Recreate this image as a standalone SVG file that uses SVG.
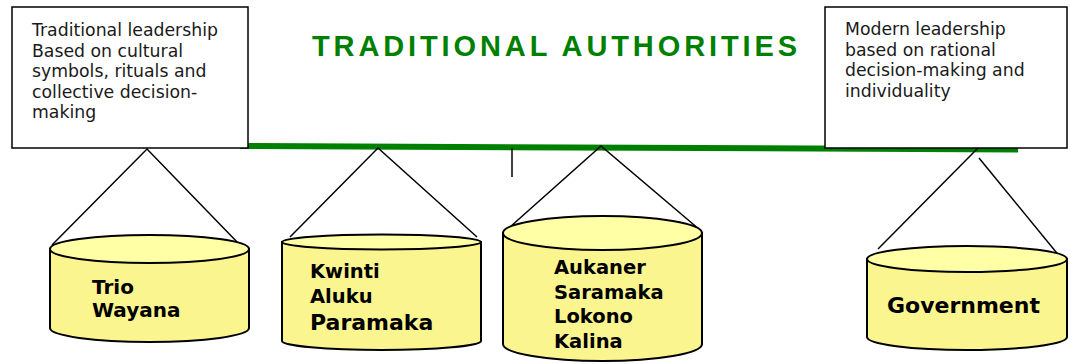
<svg xmlns="http://www.w3.org/2000/svg" width="1070" height="364" viewBox="0 0 1070 364">
<style>
.box{fill:#fff;stroke:#000;stroke-width:1.5}
.note{font-family:"DejaVu Sans",Verdana,sans-serif;font-size:17.3px;fill:#1a1a1a}
.hang{stroke:#000;stroke-width:1.5;fill:none}
.side{fill:#FAF58F;stroke:#000;stroke-width:2}
.top{fill:#FFFFA6;stroke:#000;stroke-width:2}
.lbl{font-family:"DejaVu Sans",Verdana,sans-serif;font-weight:bold;fill:#000}
</style>
<rect width="1070" height="364" fill="#fff"/>
<g id="axis">
<line x1="240" y1="146" x2="1018" y2="149.5" stroke="#008000" stroke-width="6"/>
</g>
<g id="traditional-box">
<rect class="box" x="12" y="7" width="236" height="141"/>
<text class="note"><tspan x="32" y="36">Traditional leadership</tspan><tspan x="32" y="56.5">Based on cultural</tspan><tspan x="32" y="77">symbols, rituals and</tspan><tspan x="32" y="97.5">collective decision-</tspan><tspan x="32" y="118">making</tspan></text>
</g>
<g id="modern-box">
<rect class="box" x="825" y="7" width="242" height="141"/>
<text class="note"><tspan x="845" y="35">Modern leadership</tspan><tspan x="845" y="55.5">based on rational</tspan><tspan x="845" y="76">decision-making and</tspan><tspan x="845" y="96.5">individuality</tspan></text>
</g>
<g id="title">
<text x="312" y="56" font-family="'Liberation Sans',Arial,sans-serif" font-weight="bold" font-size="29" fill="#008000" textLength="485" lengthAdjust="spacing">TRADITIONAL AUTHORITIES</text>
</g>
<g id="connectors">
<line class="hang" x1="512" y1="148" x2="512" y2="177"/>
<polyline class="hang" points="52,245 147,149 239,244"/>
<polyline class="hang" points="290,237 378,148 477,237"/>
<polyline class="hang" points="510,227 601,146 700,230"/>
<line class="hang" x1="978" y1="148" x2="878" y2="249"/>
<line class="hang" x1="979" y1="158" x2="1065" y2="263"/>
</g>
<g id="trio-wayana">
<path class="side" d="M50,249 V328 A99.5,14 0 0 0 249,328 V249 Z"/>
<ellipse class="top" cx="149.5" cy="249" rx="99.5" ry="14"/>
<text class="lbl" font-size="20"><tspan x="92" y="294">Trio</tspan><tspan x="92" y="317">Wayana</tspan></text>
</g>
<g id="kwinti-aluku-paramaka">
<path class="side" d="M282,242 V341 A99.5,9 0 0 0 481,341 V242 Z"/>
<ellipse class="top" cx="381.5" cy="242" rx="99.5" ry="7.5"/>
<text class="lbl"><tspan x="310" y="278" font-size="19.5">Kwinti</tspan><tspan x="310" y="303" font-size="19.5">Aluku</tspan><tspan x="310" y="330" font-size="22">Paramaka</tspan></text>
</g>
<g id="aukaner-saramaka-lokono-kalina">
<path class="side" d="M503,233 V344 A99.5,17 0 0 0 702,344 V233 Z"/>
<ellipse class="top" cx="602.5" cy="233" rx="99.5" ry="17"/>
<text class="lbl" font-size="19.5"><tspan x="554" y="274">Aukaner</tspan><tspan x="554" y="298.5">Saramaka</tspan><tspan x="554" y="323">Lokono</tspan><tspan x="554" y="347.5">Kalina</tspan></text>
</g>
<g id="government">
<path class="side" d="M867,259 V337 A100,13 0 0 0 1067,337 V259 Z"/>
<ellipse class="top" cx="967" cy="259" rx="100" ry="13"/>
<text class="lbl" x="887" y="313" font-size="22">Government</text>
</g>
</svg>
